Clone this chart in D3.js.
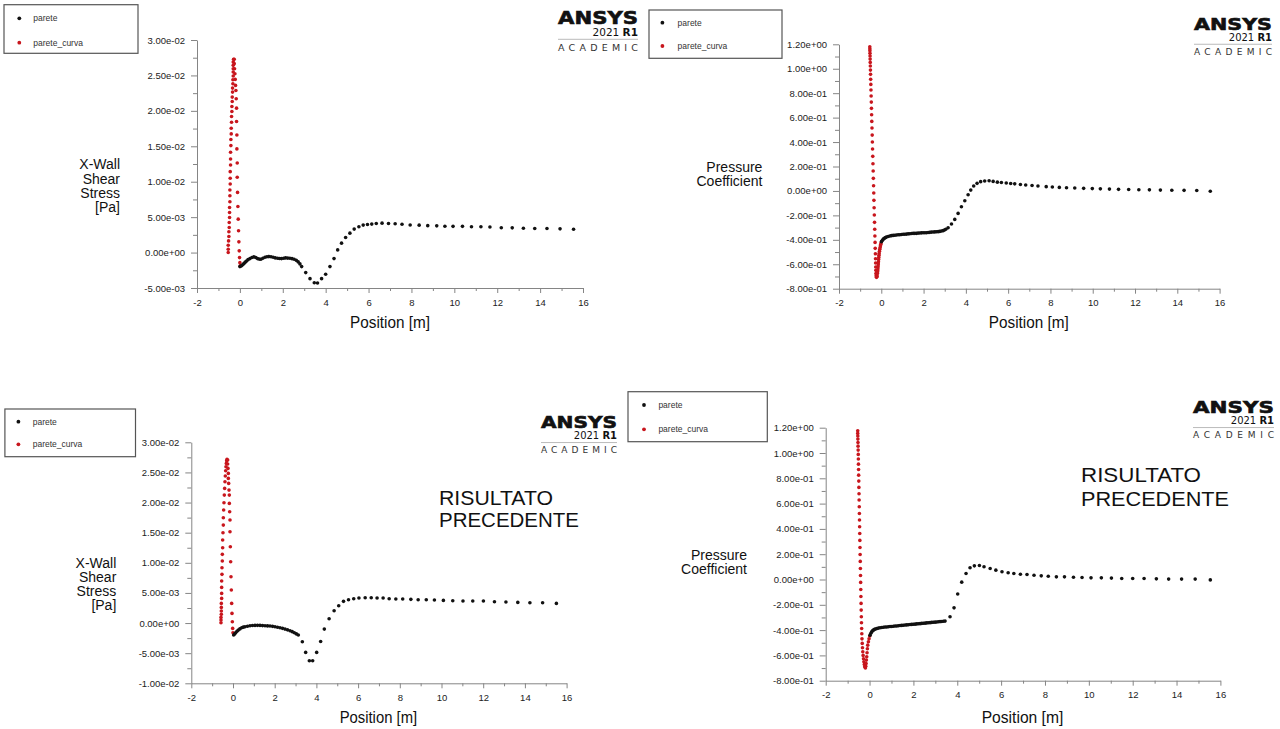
<!DOCTYPE html>
<html>
<head>
<meta charset="utf-8">
<script src="https://cdn.jsdelivr.net/npm/d3@7"></script>
<style>
  body { margin: 0; background: #fff; }
  svg { display: block; font-family: "Liberation Sans", Arial, sans-serif; }
</style>
</head>
<body>
<div class="chart"></div>
<script>
const xTicks = [-2, 0, 2, 4, 6, 8, 10, 12, 14, 16];
const wssTicksNew = [-0.005, 0, 0.005, 0.01, 0.015, 0.02, 0.025, 0.03];
const wssTicksOld = [-0.01, -0.005, 0, 0.005, 0.01, 0.015, 0.02, 0.025, 0.03];
const cpTicks = [-0.8, -0.6, -0.4, -0.2, 0, 0.2, 0.4, 0.6, 0.8, 1.0, 1.2];
const seriesNames = ["parete", "parete_curva"];

// X-wall shear stress, current result
const wssNewCurve = [
  [-0.544,0.0000],[-0.544,0.00047],[-0.544,0.00104],[-0.528,0.00165],[-0.513,0.00227],[-0.513,0.00293],
  [-0.497,0.00354],[-0.497,0.00425],[-0.482,0.00496],[-0.482,0.00566],[-0.482,0.00637],[-0.466,0.00717],
  [-0.466,0.00802],[-0.466,0.00883],[-0.451,0.00967],[-0.451,0.01048],[-0.451,0.01142],[-0.435,0.01236],
  [-0.435,0.01321],[-0.435,0.01415],[-0.420,0.0151],[-0.420,0.01595],[-0.404,0.01675],[-0.404,0.01755],
  [-0.389,0.0184],[-0.389,0.0192],[-0.373,0.0199],[-0.373,0.02062],[-0.357,0.02133],[-0.357,0.02194],
  [-0.342,0.02265],[-0.342,0.02321],[-0.326,0.02383],[-0.326,0.02439],[-0.311,0.02491],[-0.311,0.02548],
  [-0.311,0.02595],[-0.311,0.02642],[-0.311,0.02689],[-0.295,0.02727],
  [-0.264,0.02727],[-0.264,0.02666],[-0.249,0.02595],[-0.233,0.02524],[-0.218,0.02444],[-0.202,0.02359],
  [-0.186,0.02288],[-0.171,0.0217],[-0.155,0.02038],[-0.155,0.01849],[-0.140,0.0166],[-0.140,0.01463],
  [-0.124,0.01265],[-0.124,0.01062],[-0.109,0.00849],[-0.093,0.00651],[-0.078,0.00472],[-0.062,0.00307],
  [-0.047,0.00151],[-0.031,0.00024],[-0.016,-0.00071],[0,-0.00142],[0.016,-0.00188]
];
const wssNewWall = [
  [0,-0.00198],[0.05,-0.0019],[0.1,-0.0018],[0.155,-0.00165],[0.2,-0.0015],[0.25,-0.00135],[0.31,-0.00118],
  [0.38,-0.001],[0.47,-0.00085],[0.56,-0.0007],[0.65,-0.00061],[0.74,-0.0007],[0.82,-0.00085],[0.9,-0.00092],
  [0.98,-0.00094],[1.07,-0.0008],[1.17,-0.00066],[1.26,-0.0006],[1.35,-0.00057],[1.45,-0.0006],[1.55,-0.00066],
  [1.65,-0.00075],[1.76,-0.0008],[1.85,-0.00084],[1.94,-0.00085],[2.04,-0.0008],[2.13,-0.00075],[2.23,-0.00078],
  [2.33,-0.0008],[2.43,-0.00086],[2.53,-0.00094],[2.63,-0.0011],[2.72,-0.00132],[2.8,-0.0016],[2.88,-0.00198],
  [3.07,-0.00283],[3.27,-0.00368],[3.47,-0.00425],[3.62,-0.0043],[3.81,-0.00368],[4.0,-0.00306],[4.2,-0.00198],
  [4.39,-0.00085],[4.56,0.00038],[4.74,0.00133],[4.93,0.00212],[5.13,0.00274],[5.33,0.00331],[5.55,0.00364],
  [5.75,0.00388],[5.95,0.00397],[6.15,0.00402],[6.36,0.0041],[6.63,0.00415],[6.93,0.0041],[7.24,0.00406],
  [7.56,0.004],[7.94,0.0039],[8.36,0.00387],[8.76,0.0038],[9.18,0.00377],[9.56,0.00372],[9.94,0.0037],
  [10.38,0.0037],[10.8,0.00365],[11.24,0.00365],[11.66,0.0036],[12.19,0.0035],[12.7,0.00349],[13.22,0.00344],
  [13.75,0.0034],[14.32,0.0034],[14.93,0.00335],[15.56,0.0033]
];

// pressure coefficient, current result
const cpNewCurve = [
  [-0.543,1.180],[-0.540,1.164],[-0.538,1.148],[-0.535,1.126],[-0.531,1.104],[-0.528,1.079],[-0.523,1.052],
  [-0.518,1.022],[-0.513,0.989],[-0.509,0.954],[-0.502,0.913],[-0.495,0.872],[-0.488,0.826],[-0.480,0.777],
  [-0.472,0.727],[-0.465,0.676],[-0.457,0.624],[-0.449,0.569],[-0.440,0.515],[-0.430,0.457],[-0.422,0.400],
  [-0.413,0.343],[-0.403,0.283],[-0.394,0.223],[-0.384,0.163],[-0.375,0.103],[-0.365,0.043],[-0.356,-0.017],
  [-0.348,-0.077],[-0.339,-0.137],[-0.329,-0.197],[-0.320,-0.257],[-0.310,-0.314],[-0.302,-0.369],[-0.294,-0.421],
  [-0.287,-0.470],[-0.279,-0.514],[-0.272,-0.555],[-0.268,-0.590],[-0.263,-0.623],[-0.258,-0.650],[-0.253,-0.675],
  [-0.244,-0.694],[-0.228,-0.707],
  [-0.212,-0.703],[-0.197,-0.696],[-0.181,-0.675],[-0.173,-0.661],[-0.165,-0.647],[-0.157,-0.631],[-0.149,-0.615],
  [-0.141,-0.597],[-0.134,-0.579],[-0.126,-0.561],[-0.118,-0.544],[-0.110,-0.527],[-0.102,-0.511],[-0.087,-0.494],
  [-0.071,-0.478],[-0.055,-0.463],[-0.039,-0.448],[-0.024,-0.436],[-0.008,-0.424]
];
const cpNewWall = [
  [0.008,-0.415],[0.047,-0.405],[0.087,-0.396],[0.126,-0.39],[0.166,-0.385],[0.205,-0.381],[0.245,-0.377],
  [0.32,-0.373],[0.402,-0.369],[0.48,-0.366],[0.560,-0.364],[0.64,-0.362],[0.717,-0.361],[0.8,-0.359],
  [0.875,-0.358],[0.955,-0.356],[1.033,-0.355],[1.11,-0.354],[1.190,-0.353],[1.27,-0.351],[1.348,-0.350],
  [1.43,-0.348],[1.505,-0.347],[1.585,-0.347],[1.663,-0.347],[1.74,-0.345],[1.821,-0.344],[1.9,-0.343],
  [1.978,-0.342],[2.06,-0.342],[2.136,-0.342],[2.215,-0.34],[2.293,-0.339],[2.37,-0.337],[2.451,-0.336],
  [2.53,-0.335],[2.609,-0.334],[2.69,-0.333],[2.766,-0.331],[2.845,-0.328],[2.924,-0.325],[2.99,-0.32],
  [3.05,-0.314],[3.16,-0.301],[3.32,-0.271],[3.475,-0.233],[3.633,-0.184],[3.79,-0.129],[3.95,-0.08],
  [4.106,-0.031],[4.232,0.007],[4.37,0.04],[4.53,0.062],[4.70,0.076],[4.89,0.081],[5.10,0.084],[5.29,0.078],
  [5.49,0.072],[5.68,0.069],[5.91,0.065],[6.12,0.061],[6.31,0.058],[6.58,0.053],[6.83,0.049],[7.13,0.044],
  [7.41,0.040],[7.80,0.035],[8.09,0.032],[8.42,0.029],[8.76,0.026],[9.15,0.024],[9.57,0.021],[9.98,0.019],
  [10.36,0.017],[10.79,0.015],[11.22,0.013],[11.70,0.012],[12.18,0.010],[12.68,0.009],[13.20,0.007],
  [13.74,0.006],[14.32,0.005],[14.92,0.003],[15.56,-0.003]
];

// X-wall shear stress, previous result
const wssOldCurve = [
  [-0.576,0.00005],[-0.576,0.0005],[-0.576,0.00094],[-0.560,0.00144],[-0.560,0.002],[-0.560,0.0026],
  [-0.560,0.00326],[-0.544,0.00409],[-0.544,0.00492],[-0.544,0.00592],[-0.544,0.00697],[-0.528,0.00808],
  [-0.528,0.00918],[-0.512,0.01029],[-0.512,0.0114],[-0.496,0.0125],[-0.496,0.01378],[-0.480,0.01499],
  [-0.464,0.01626],[-0.464,0.01748],[-0.448,0.01876],[-0.432,0.01997],[-0.416,0.02124],[-0.400,0.02235],
  [-0.384,0.02346],[-0.368,0.0244],[-0.352,0.02528],[-0.336,0.02595],[-0.320,0.0265],[-0.304,0.02694],
  [-0.288,0.02716],
  [-0.256,0.02705],[-0.256,0.02639],[-0.240,0.02567],[-0.224,0.02484],[-0.224,0.02401],[-0.208,0.02318],
  [-0.192,0.02207],[-0.176,0.02124],[-0.176,0.01986],[-0.160,0.01848],[-0.144,0.0171],[-0.144,0.01516],
  [-0.128,0.01267],[-0.112,0.01018],[-0.096,0.00769],[-0.080,0.00548],[-0.064,0.00326],[-0.048,0.0016],
  [-0.032,0.00022],[-0.016,-0.00089],[0.000,-0.00161]
];
const wssOldWall = [
  [0.032,-0.00199],[0.08,-0.0018],[0.128,-0.0016],[0.19,-0.00138],[0.256,-0.00117],[0.33,-0.00097],
  [0.415,-0.00078],[0.495,-0.00068],[0.575,-0.00061],[0.695,-0.00052],[0.815,-0.00045],[0.935,-0.00041],
  [1.055,-0.00039],[1.175,-0.00038],[1.295,-0.00039],[1.415,-0.00042],[1.535,-0.00045],[1.655,-0.00047],
  [1.775,-0.0005],[1.895,-0.00055],[2.014,-0.00061],[2.134,-0.00069],[2.254,-0.00078],[2.374,-0.00088],
  [2.494,-0.001],[2.614,-0.00113],[2.734,-0.00128],[2.84,-0.00143],[2.941,-0.00161],[3.04,-0.0018],
  [3.133,-0.00199],[3.325,-0.0031],[3.485,-0.00487],[3.661,-0.00625],[3.821,-0.00625],[4.013,-0.00487],
  [4.204,-0.00305],[4.38,-0.001],[4.61,0.00072],[4.85,0.00205],[5.07,0.00288],[5.3,0.0036],[5.54,0.00387],
  [5.79,0.00404],[6.04,0.00415],[6.34,0.0042],[6.63,0.0042],[6.91,0.00415],[7.2,0.00415],[7.49,0.00404],
  [7.81,0.00398],[8.14,0.00398],[8.53,0.00393],[8.88,0.00387],[9.27,0.00387],[9.66,0.00382],[10.09,0.00376],
  [10.54,0.00371],[11.03,0.00365],[11.5,0.00365],[12.01,0.00365],[12.54,0.00354],[13.09,0.00349],
  [13.66,0.00343],[14.24,0.00337],[14.85,0.00337],[15.51,0.00326]
];

// pressure coefficient, previous result
const cpOldCurve = [
  [-0.539,1.176],[-0.539,1.155],[-0.536,1.134],[-0.532,1.110],[-0.527,1.083],[-0.524,1.054],[-0.520,1.023],
  [-0.515,0.989],[-0.511,0.952],[-0.506,0.912],[-0.501,0.870],[-0.497,0.825],[-0.491,0.778],[-0.486,0.728],
  [-0.480,0.678],[-0.476,0.628],[-0.469,0.575],[-0.463,0.522],[-0.459,0.470],[-0.453,0.417],[-0.447,0.364],
  [-0.442,0.309],[-0.436,0.253],[-0.430,0.198],[-0.424,0.143],[-0.418,0.087],[-0.412,0.032],[-0.406,-0.023],
  [-0.400,-0.079],[-0.394,-0.134],[-0.387,-0.189],[-0.381,-0.242],[-0.375,-0.295],[-0.368,-0.342],
  [-0.360,-0.387],[-0.353,-0.429],[-0.345,-0.469],[-0.334,-0.505],[-0.322,-0.540],[-0.308,-0.571],
  [-0.293,-0.600],[-0.276,-0.627],[-0.258,-0.650],[-0.238,-0.671],[-0.220,-0.690],
  [-0.190,-0.700],[-0.175,-0.685],[-0.159,-0.664],[-0.144,-0.637],[-0.129,-0.611],[-0.114,-0.579],
  [-0.099,-0.548],[-0.083,-0.519],[-0.053,-0.492],[-0.023,-0.469],[0.008,-0.447]
];
const cpOldWall = [
  [0.023,-0.44],[0.06,-0.425],[0.099,-0.413],[0.137,-0.406],[0.175,-0.400],[0.213,-0.396],[0.251,-0.392],
  [0.327,-0.388],[0.403,-0.384],[0.479,-0.381],[0.555,-0.379],[0.631,-0.377],[0.707,-0.376],[0.783,-0.375],
  [0.859,-0.374],[0.935,-0.372],[1.011,-0.371],[1.087,-0.37],[1.163,-0.368],[1.239,-0.367],[1.315,-0.366],
  [1.391,-0.364],[1.467,-0.363],[1.543,-0.362],[1.619,-0.360],[1.695,-0.359],[1.771,-0.358],[1.847,-0.356],
  [1.923,-0.355],[1.999,-0.354],[2.075,-0.353],[2.151,-0.351],[2.227,-0.350],[2.303,-0.349],[2.379,-0.347],
  [2.455,-0.346],[2.531,-0.345],[2.607,-0.343],[2.683,-0.342],[2.759,-0.341],[2.835,-0.339],[2.911,-0.338],
  [2.987,-0.337],[3.063,-0.336],[3.139,-0.334],[3.215,-0.333],[3.291,-0.332],[3.367,-0.33],[3.443,-0.329],
  [3.67,-0.295],[3.853,-0.224],[4.02,-0.115],[4.203,-0.021],[4.40,0.048],[4.583,0.093],[4.78,0.108],
  [5.01,0.111],[5.22,0.101],[5.5,0.087],[5.76,0.074],[6.04,0.061],[6.32,0.053],[6.58,0.047],[6.88,0.042],
  [7.18,0.04],[7.5,0.034],[7.83,0.029],[8.15,0.026],[8.52,0.021],[8.89,0.021],[9.3,0.018],[9.69,0.016],
  [10.1,0.013],[10.57,0.013],[11.03,0.011],[11.5,0.008],[12.0,0.008],[12.52,0.008],[13.08,0.005],
  [13.64,0.003],[14.23,0.003],[14.85,0.003],[15.54,-0.003]
];

// ---- layout of the four screenshots ----
const panels = [
  { wall: wssNewWall, curve: wssNewCurve, yTicks: wssTicksNew,
    xRange: [197, 583], yRange: [288, 40],
    yTitle: ["X-Wall", "Shear", "Stress", "[Pa]"], yTitleX: 120, yTitleY: 169.3, yTitleStep: 14.2,
    xTitleX: 390, xTitleY: 327.5, xTitleW: 80,
    legend: { x: 4, y: 4.7, w: 134, h: 48.6, dotX: 19.3, textX: 33.3, rows: [18.3, 42.7] },
    logo: { x1: 558, x2: 638, base: 24.3, k: 1 } },
  { wall: cpNewWall, curve: cpNewCurve, yTicks: cpTicks,
    xRange: [839, 1219.6], yRange: [288.7, 44.3],
    yTitle: ["Pressure", "Coefficient"], yTitleX: 762.4, yTitleY: 171.7, yTitleStep: 14.3,
    xTitleX: 1028.8, xTitleY: 327.5, xTitleW: 80,
    legend: { x: 649, y: 10, w: 133, h: 48.3, dotX: 662.4, textX: 677.6, rows: [22.7, 46] },
    logo: { x1: 1194, x2: 1272, base: 30, k: 0.95 } },
  { wall: wssOldWall, curve: wssOldCurve, yTicks: wssTicksOld,
    xRange: [191.3, 566.6], yRange: [683.3, 442.3],
    yTitle: ["X-Wall", "Shear", "Stress", "[Pa]"], yTitleX: 116.3, yTitleY: 568.3, yTitleStep: 13.9,
    xTitleX: 378.4, xTitleY: 723, xTitleW: 77.5,
    legend: { x: 4.9, y: 409, w: 130.6, h: 47.7, dotX: 18.4, textX: 32.7, rows: [421.7, 444.3] },
    logo: { x1: 541, x2: 617, base: 428.3, k: 0.95 },
    note: { x: 439, ys: [505, 527.3], ws: [114, 140] } },
  { wall: cpOldWall, curve: cpOldCurve, yTicks: cpTicks,
    xRange: [825.7, 1220.4], yRange: [680.7, 427.7],
    yTitle: ["Pressure", "Coefficient"], yTitleX: 747, yTitleY: 560, yTitleStep: 14.3,
    xTitleX: 1022.5, xTitleY: 722.5, xTitleW: 81.7,
    legend: { x: 628, y: 391.7, w: 139.3, h: 50, dotX: 644, textX: 658.4, rows: [405, 429.3] },
    logo: { x1: 1193, x2: 1274, base: 413.3, k: 0.95 },
    note: { x: 1081, ys: [481.7, 505.7], ws: [120, 148] } }
];

const black = "#111";
const red = "#c8161d";
const axisColor = "#858585";

const loc = d3.formatLocale({ decimal: ".", thousands: ",", grouping: [3], currency: ["", ""], minus: "-" });
const fmtE = loc.format(".2e");
const fmtInt = loc.format("d");
// Fluent style: 3.00e-02, two digit exponent
const sci = v => fmtE(v).replace(/e([+-])(\d+)$/, (m, s, d) => "e" + s + d.padStart(2, "0"));
const mids = arr => d3.pairs(arr).map(([a, b]) => (a + b) / 2);

const svg = d3.select(".chart")
  .append("svg")
  .attr("width", 1280)
  .attr("height", 729);

svg.append("rect").attr("width", 1280).attr("height", 729).attr("fill", "#fff");

panels.forEach(p => {
  const g = svg.append("g");

  const x = d3.scaleLinear()
    .domain([xTicks[0], xTicks[xTicks.length - 1]])
    .range(p.xRange);
  const y = d3.scaleLinear()
    .domain([p.yTicks[0], p.yTicks[p.yTicks.length - 1]])
    .range(p.yRange);

  const x0 = p.xRange[0];
  const yBase = p.yRange[0];

  // minor ticks first, then the labelled ones
  g.append("g")
    .attr("transform", `translate(${x0},0)`)
    .call(d3.axisLeft(y).tickValues(mids(p.yTicks)).tickSize(4).tickFormat(""))
    .call(sg => sg.select(".domain").remove());
  g.append("g")
    .attr("transform", `translate(0,${yBase})`)
    .call(d3.axisBottom(x).tickValues(mids(xTicks)).tickSize(3).tickFormat(""))
    .call(sg => sg.select(".domain").remove());

  const yAxis = g.append("g")
    .attr("transform", `translate(${x0},0)`)
    .call(d3.axisLeft(y).tickValues(p.yTicks).tickFormat(sci).tickSize(6).tickSizeOuter(0).tickPadding(6));
  const xAxis = g.append("g")
    .attr("transform", `translate(0,${yBase})`)
    .call(d3.axisBottom(x).tickValues(xTicks).tickFormat(fmtInt).tickSize(5).tickSizeOuter(0).tickPadding(6));

  g.selectAll(".domain, .tick line").attr("stroke", axisColor);
  [yAxis, xAxis].forEach(a => a.selectAll("text")
    .attr("font-size", 9.5)
    .attr("font-family", "Liberation Sans, Arial, sans-serif")
    .attr("fill", "#222"));

  // points
  g.append("g").selectAll("circle")
    .data(p.curve)
    .join("circle")
    .attr("cx", d => x(d[0]))
    .attr("cy", d => y(d[1]))
    .attr("r", 1.8)
    .attr("fill", red);

  g.append("g").selectAll("circle")
    .data(p.wall)
    .join("circle")
    .attr("cx", d => x(d[0]))
    .attr("cy", d => y(d[1]))
    .attr("r", 1.8)
    .attr("fill", black);

  // axis titles
  g.append("g").selectAll("text")
    .data(p.yTitle)
    .join("text")
    .attr("x", p.yTitleX)
    .attr("y", (d, i) => p.yTitleY + i * p.yTitleStep)
    .attr("text-anchor", "end")
    .attr("font-size", 14)
    .attr("fill", "#111")
    .text(d => d);

  g.append("text")
    .attr("x", p.xTitleX - p.xTitleW / 2)
    .attr("y", p.xTitleY)
    .attr("font-size", 17)
    .attr("textLength", p.xTitleW)
    .attr("lengthAdjust", "spacingAndGlyphs")
    .attr("fill", "#111")
    .text("Position [m]");

  // legend
  const L = p.legend;
  g.append("rect")
    .attr("x", L.x).attr("y", L.y)
    .attr("width", L.w).attr("height", L.h)
    .attr("fill", "#fff")
    .attr("stroke", "#555")
    .attr("stroke-width", 1.2);

  const items = g.append("g").selectAll("g")
    .data(seriesNames)
    .join("g")
    .attr("transform", (d, i) => `translate(0,${L.rows[i]})`);
  items.append("circle")
    .attr("cx", L.dotX)
    .attr("r", 1.9)
    .attr("fill", (d, i) => i === 0 ? black : red);
  items.append("text")
    .attr("x", L.textX)
    .attr("dy", "0.35em")
    .attr("font-size", 8.5)
    .attr("fill", "#333")
    .text(d => d);

  drawLogo(g, p.logo);

  if (p.note) {
    g.append("g").selectAll("text")
      .data(["RISULTATO", "PRECEDENTE"])
      .join("text")
      .attr("x", p.note.x)
      .attr("y", (d, i) => p.note.ys[i])
      .attr("font-size", 20.5)
      .attr("textLength", (d, i) => p.note.ws[i])
      .attr("lengthAdjust", "spacingAndGlyphs")
      .attr("fill", "#111")
      .text(d => d);
  }
});

function drawLogo(g, o) {
  const w = o.x2 - o.x1;
  g.append("text")
    .attr("x", o.x1)
    .attr("y", o.base)
    .attr("font-family", "DejaVu Sans, sans-serif")
    .attr("font-weight", "bold")
    .attr("font-size", 17 * o.k)
    .attr("textLength", w)
    .attr("lengthAdjust", "spacingAndGlyphs")
    .attr("fill", "#111")
    .attr("stroke", "#111")
    .attr("stroke-width", 0.6)
    .text("ANSYS");

  const yr = g.append("text")
    .attr("x", o.x2)
    .attr("y", o.base + 11.2 * o.k)
    .attr("text-anchor", "end")
    .attr("font-family", "DejaVu Sans, sans-serif")
    .attr("font-size", 10.5 * o.k)
    .attr("fill", "#111");
  yr.append("tspan").text("2021 ");
  yr.append("tspan").attr("font-weight", "bold").text("R1");

  g.append("line")
    .attr("x1", o.x1).attr("x2", o.x2)
    .attr("y1", o.base + 15 * o.k).attr("y2", o.base + 15 * o.k)
    .attr("stroke", "#bbb")
    .attr("stroke-width", 1);

  g.append("text")
    .attr("x", o.x1)
    .attr("y", o.base + 26.5 * o.k)
    .attr("font-family", "DejaVu Sans, sans-serif")
    .attr("font-size", 9.5 * o.k)
    .attr("textLength", w)
    .attr("lengthAdjust", "spacing")
    .attr("fill", "#333")
    .text("ACADEMIC");
}
</script>
</body>
</html>
